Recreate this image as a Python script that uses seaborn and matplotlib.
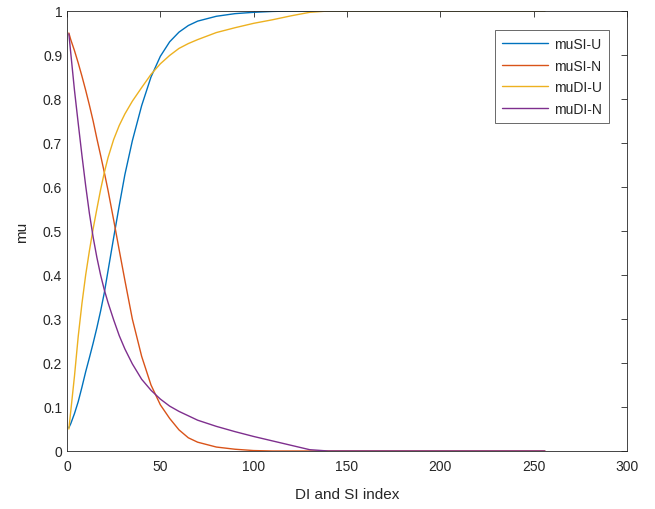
import pandas as pd
from matplotlib import pyplot as plt
import seaborn as sns

sns.set_style("white")
plt.rcParams["font.family"] = ["Liberation Sans", "DejaVu Sans"]

# index positions
x_idx = [1, 2, 4, 6, 8, 10, 12, 14, 16, 18, 20, 22, 25, 28, 31, 35, 40, 45, 50,
         55, 60, 65, 70, 80, 90, 100, 110, 120, 130, 140, 150, 200, 256]

mu_si_u = [0.053, 0.062, 0.085, 0.112, 0.145, 0.18, 0.212, 0.245, 0.28, 0.318,
           0.36, 0.41, 0.485, 0.558, 0.628, 0.705, 0.785, 0.85, 0.897, 0.93,
           0.952, 0.967, 0.977, 0.988, 0.994, 0.997, 0.999, 1.0, 1.0, 1.0, 1.0,
           1.0, 1.0]
mu_si_n = [0.95, 0.935, 0.91, 0.882, 0.852, 0.82, 0.786, 0.75, 0.71, 0.672,
           0.633, 0.592, 0.525, 0.456, 0.388, 0.30, 0.215, 0.15, 0.105, 0.074,
           0.048, 0.03, 0.02, 0.009, 0.004, 0.001, 0.0, 0.0, 0.0, 0.0, 0.0, 0.0,
           0.0]
mu_di_u = [0.05, 0.09, 0.17, 0.26, 0.335, 0.40, 0.455, 0.505, 0.55, 0.594,
           0.633, 0.667, 0.708, 0.74, 0.766, 0.795, 0.826, 0.856, 0.88, 0.899,
           0.915, 0.926, 0.935, 0.951, 0.962, 0.972, 0.98, 0.989, 0.997, 1.0,
           1.0, 1.0, 1.0]
mu_di_n = [0.948, 0.905, 0.82, 0.745, 0.672, 0.603, 0.54, 0.486, 0.44, 0.40,
           0.366, 0.337, 0.298, 0.262, 0.232, 0.198, 0.163, 0.138, 0.118, 0.102,
           0.09, 0.08, 0.07, 0.056, 0.044, 0.033, 0.023, 0.013, 0.003, 0.0, 0.0,
           0.0, 0.0]

series_names = ["muSI-U", "muSI-N", "muDI-U", "muDI-N"]
colors = ["#0072BD", "#D95319", "#EDB120", "#7E2F8E"]

frames = []
for name, vals in zip(series_names, [mu_si_u, mu_si_n, mu_di_u, mu_di_n]):
    frames.append(pd.DataFrame({"x": x_idx, "mu": vals, "series": name}))
df = pd.concat(frames, ignore_index=True)

fig = plt.figure(figsize=(6.55, 5.10), dpi=100)
ax = fig.add_axes([67 / 655, 58 / 510, 560 / 655, 440 / 510])

sns.lineplot(data=df, x="x", y="mu", hue="series", palette=colors,
             hue_order=series_names, sort=False, linewidth=1.0, ax=ax)

ax.set_xlim(0, 300)
ax.set_ylim(0, 1)
ax.set_xticks(range(0, 301, 50))
ax.set_yticks([i / 10 for i in range(11)])
ax.set_yticklabels(["0"] + [f"0.{i}" for i in range(1, 10)] + ["1"])
ax.set_xlabel("DI and SI index", fontsize=11, color="#262626", labelpad=10)
ax.set_ylabel("mu", fontsize=11, color="#262626", labelpad=10)
ax.tick_params(direction="in", top=True, right=True, length=4, width=0.6,
               labelsize=10, colors="#262626")
ax.tick_params(axis="x", pad=6)
for s in ax.spines.values():
    s.set_color("#262626")
    s.set_linewidth(0.6)

leg = ax.legend(loc="upper right", bbox_to_anchor=(0.968, 0.957), borderaxespad=0,
                fontsize=10, frameon=True, fancybox=False, handlelength=3.3,
                handletextpad=0.45, labelspacing=0.55, borderpad=0.5)
leg.get_frame().set_edgecolor("#262626")
leg.get_frame().set_linewidth(0.6)

fig.savefig("out.png", dpi=100)
